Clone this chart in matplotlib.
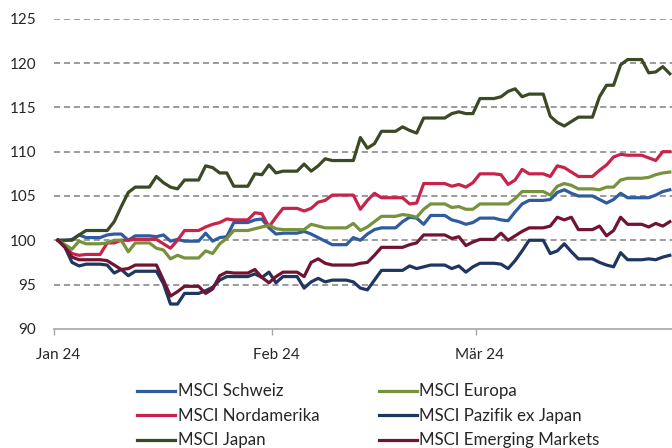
import matplotlib
matplotlib.use("Agg")
import matplotlib.pyplot as plt
import matplotlib.dates as mdates
import pandas as pd
import numpy as np

plt.rcParams['font.family'] = ['Lato', 'DejaVu Sans']

# daily values (calendar days, 1 Jan - 28 Mar 2024, weekends carried)
dates = pd.date_range('2024-01-01', '2024-03-28', freq='D')

schweiz = [100.0, 100.0, 100.1, 100.6, 100.3, 100.3, 100.3, 100.6, 100.7, 100.7,
           100.0, 100.5, 100.5, 100.5, 100.4, 100.6, 99.9, 100.1, 99.9, 99.9,
           99.9, 100.8, 99.9, 100.3, 100.4, 102.0, 102.0, 102.0, 102.3, 102.4,
           101.4, 100.7, 100.8, 100.8, 100.8, 101.0, 100.7, 100.3, 99.9, 99.5,
           99.5, 99.5, 100.3, 100.0, 100.7, 101.2, 101.4, 101.4, 101.4, 102.1,
           102.6, 102.5, 101.8, 102.8, 102.8, 102.8, 102.3, 102.1, 101.8, 102.0,
           102.5, 102.5, 102.5, 102.3, 102.2, 103.2, 104.1, 104.5, 104.5, 104.5,
           104.6, 105.4, 105.7, 105.3, 105.0, 105.0, 105.0, 104.6, 104.2, 104.6,
           105.3, 104.8, 104.8, 104.8, 104.8, 105.1, 105.5, 105.7]

europa = [100.0, 99.5, 99.0, 99.9, 99.6, 99.6, 99.6, 99.7, 100.0, 100.0,
          98.7, 99.7, 99.7, 99.7, 99.1, 98.9, 97.9, 98.3, 98.0, 98.0,
          98.0, 98.8, 98.5, 99.6, 100.2, 101.1, 101.1, 101.1, 101.3, 101.5,
          101.7, 101.3, 101.2, 101.2, 101.2, 101.2, 101.8, 101.6, 101.4, 101.4,
          101.4, 101.4, 101.9, 101.1, 101.5, 102.1, 102.7, 102.7, 102.7, 102.9,
          102.8, 102.6, 103.5, 104.1, 104.1, 104.1, 103.7, 103.8, 103.5, 103.5,
          104.1, 104.1, 104.1, 104.1, 104.1, 104.7, 105.5, 105.5, 105.5, 105.5,
          105.1, 106.1, 106.4, 106.2, 105.8, 105.8, 105.8, 105.7, 106.0, 106.0,
          106.8, 107.0, 107.0, 107.0, 107.1, 107.4, 107.6, 107.7]

nordamerika = [100.0, 99.3, 98.5, 98.3, 98.4, 98.4, 98.4, 99.7, 99.7, 100.0,
               100.0, 100.1, 100.1, 100.1, 100.1, 99.6, 99.1, 100.0, 101.1, 101.1,
               101.1, 101.5, 101.8, 102.0, 102.4, 102.3, 102.3, 102.3, 103.1, 103.0,
               101.5, 102.6, 103.6, 103.6, 103.6, 103.3, 103.6, 104.3, 104.5, 105.1,
               105.1, 105.1, 105.1, 103.5, 104.5, 105.3, 104.8, 104.8, 104.8, 104.8,
               104.1, 104.2, 106.4, 106.4, 106.4, 106.4, 106.1, 106.3, 106.0, 106.5,
               107.5, 107.5, 107.5, 107.4, 106.3, 106.8, 108.0, 107.5, 107.5, 107.5,
               107.2, 108.4, 108.2, 107.7, 107.2, 107.2, 107.2, 107.9, 108.5, 109.4,
               109.7, 109.6, 109.6, 109.6, 109.3, 109.0, 110.0, 110.0]

pazifik = [100.0, 99.2, 97.5, 97.1, 97.3, 97.3, 97.3, 97.2, 96.3, 96.7,
           96.0, 96.5, 96.5, 96.5, 96.5, 95.1, 92.8, 92.8, 94.0, 94.0,
           94.0, 94.3, 94.7, 95.5, 95.9, 95.9, 95.9, 95.9, 96.2, 95.8,
           96.4, 95.2, 95.9, 95.9, 95.9, 94.6, 95.3, 95.7, 95.3, 95.5,
           95.5, 95.5, 95.3, 94.6, 94.4, 95.5, 96.6, 96.6, 96.6, 96.6,
           97.1, 96.8, 97.0, 97.2, 97.2, 97.2, 96.8, 97.1, 96.4, 97.0,
           97.4, 97.4, 97.4, 97.3, 96.8, 97.7, 98.8, 100.0, 100.0, 100.0,
           98.5, 98.8, 99.6, 98.7, 97.9, 97.9, 97.9, 97.5, 97.2, 97.0,
           98.6, 97.8, 97.8, 97.8, 97.9, 97.8, 98.1, 98.3]

japan = [100.0, 100.0, 100.0, 100.6, 101.1, 101.1, 101.1, 101.1, 102.1, 103.8,
         105.4, 106.0, 106.0, 106.0, 107.2, 106.5, 106.0, 105.8, 106.8, 106.8,
         106.8, 108.4, 108.2, 107.6, 107.6, 106.1, 106.1, 106.1, 107.5, 107.4,
         108.5, 107.6, 107.8, 107.8, 107.8, 108.6, 107.8, 108.4, 109.2, 109.0,
         109.0, 109.0, 109.0, 111.6, 110.4, 110.9, 112.3, 112.3, 112.3, 112.8,
         112.4, 112.1, 113.8, 113.8, 113.8, 113.8, 114.3, 114.5, 114.3, 114.3,
         116.0, 116.0, 116.0, 116.2, 116.8, 117.1, 116.2, 116.5, 116.5, 116.5,
         114.0, 113.3, 112.9, 113.4, 113.9, 113.9, 113.9, 116.2, 117.5, 117.5,
         119.8, 120.4, 120.4, 120.4, 118.9, 119.0, 119.6, 118.8]

emerging = [100.0, 99.2, 98.1, 97.8, 97.8, 97.8, 97.8, 97.7, 97.2, 96.7,
            96.8, 97.2, 97.2, 97.2, 97.2, 95.5, 93.7, 94.2, 94.8, 94.8,
            94.8, 94.0, 94.5, 96.0, 96.4, 96.3, 96.3, 96.3, 96.7, 95.8,
            95.2, 95.9, 96.4, 96.4, 96.4, 95.9, 97.5, 97.9, 97.4, 97.2,
            97.2, 97.2, 97.2, 97.4, 97.5, 98.3, 99.2, 99.2, 99.2, 99.2,
            99.5, 99.7, 100.6, 100.6, 100.6, 100.6, 100.2, 100.4, 99.4, 99.8,
            100.1, 100.1, 100.1, 100.8, 100.0, 100.5, 101.0, 101.4, 101.4, 101.4,
            101.6, 102.6, 102.3, 102.6, 101.2, 101.2, 101.2, 101.6, 100.5, 101.1,
            102.6, 101.8, 101.8, 101.8, 101.5, 101.9, 101.6, 102.1]

# legend order (column-wise fill: left column first)
series = [
    ('MSCI Schweiz', schweiz, '#2E5C9E'),
    ('MSCI Nordamerika', nordamerika, '#C8234B'),
    ('MSCI Japan', japan, '#3B4A24'),
    ('MSCI Europa', europa, '#76923C'),
    ('MSCI Pazifik ex Japan', pazifik, '#1E3661'),
    ('MSCI Emerging Markets', emerging, '#701432'),
]

fig = plt.figure(figsize=(6.72, 4.48), dpi=100)
ax = fig.add_axes([0.081, 0.266, 0.921, 0.692])

for name, vals, col in series:
    ax.plot(dates, vals, color=col, lw=2.3, label=name, solid_joinstyle='round')

half = pd.Timedelta(hours=12)
ax.set_xlim(dates[0] - half, dates[-1] + half)
ax.set_ylim(90, 125)
ax.set_yticks(np.arange(90, 126, 5))

for yv in range(95, 126, 5):
    ax.axhline(yv, color='#808080', lw=1.1, ls=(0, (4, 2.5)), zorder=0)

months = pd.to_datetime(['2024-01-01', '2024-02-01', '2024-03-01'])
ax.set_xticks(months)
ax.set_xticklabels(['Jan 24', 'Feb 24', 'Mär 24'])
ax.set_xticks(months - half, minor=True)
ax.tick_params(axis='x', which='major', length=0, pad=14, labelsize=11, labelcolor='#262626')
ax.tick_params(axis='x', which='minor', length=4, color='#A6A6A6', width=1)
ax.tick_params(axis='y', length=0, pad=13, labelsize=11, labelcolor='#262626')

for s in ['top', 'right', 'left']:
    ax.spines[s].set_visible(False)
ax.spines['bottom'].set_color('#A6A6A6')
ax.spines['bottom'].set_linewidth(1.2)

fig.legend(loc='upper left', bbox_to_anchor=(0.204, 0.144), ncol=2, frameon=False,
           fontsize=12.2, handlelength=2.25, handletextpad=0.15, columnspacing=3.5,
           labelspacing=0.5, borderaxespad=0, borderpad=0, labelcolor='#262626')

fig.savefig('out.png', dpi=100)
